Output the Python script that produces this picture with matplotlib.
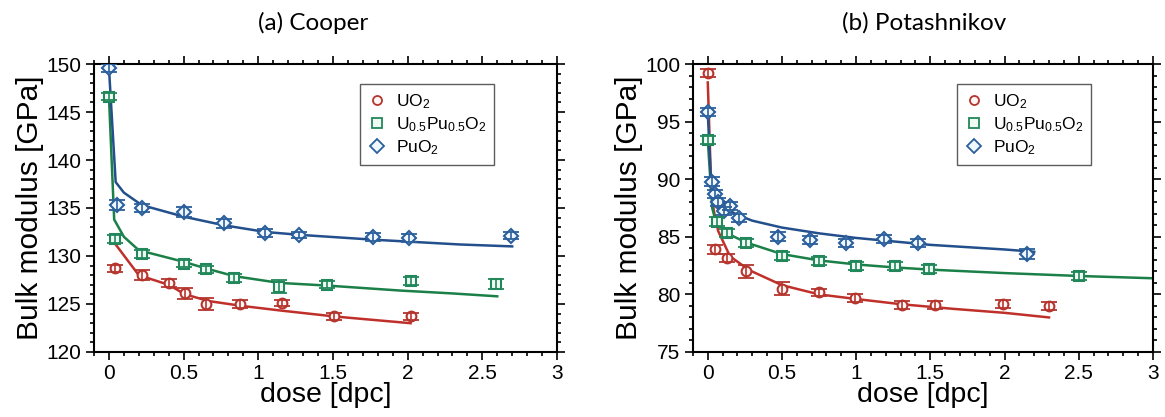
import matplotlib
matplotlib.use("Agg")
import matplotlib.pyplot as plt
from matplotlib.lines import Line2D
from matplotlib.ticker import MultipleLocator

plt.rcParams['font.family'] = ['Liberation Sans', 'DejaVu Sans']
plt.rcParams['mathtext.fontset'] = 'custom'
plt.rcParams['mathtext.rm'] = 'Liberation Sans'
plt.rcParams['mathtext.it'] = 'Liberation Sans:italic'

# ---- (a) Cooper: measured points
coop_uo2_x = [0.04, 0.22, 0.40, 0.51, 0.65, 0.88, 1.16, 1.51, 2.02]
coop_uo2_y = [128.7, 128.0, 127.2, 126.1, 125.0, 125.0, 125.1, 123.7, 123.7]
coop_uo2_e = [0.35, 0.55, 0.45, 0.6, 0.6, 0.45, 0.35, 0.35, 0.4]

coop_mox_x = [0.0, 0.04, 0.22, 0.50, 0.65, 0.84, 1.14, 1.46, 2.02, 2.59]
coop_mox_y = [146.6, 131.8, 130.2, 129.2, 128.6, 127.7, 126.8, 127.0, 127.4, 127.1]
coop_mox_e = [0.35, 0.4, 0.45, 0.35, 0.4, 0.45, 0.7, 0.35, 0.45, 0.5]

coop_puo2_x = [0.0, 0.056, 0.22, 0.50, 0.77, 1.045, 1.27, 1.77, 2.01, 2.69]
coop_puo2_y = [149.6, 135.3, 135.0, 134.6, 133.4, 132.4, 132.2, 132.0, 131.9, 132.1]
coop_puo2_e = [0.45, 0.55, 0.45, 0.5, 0.5, 0.45, 0.35, 0.4, 0.4, 0.35]

# (a) Cooper: fitted curves
coop_uo2_fit_x = [0.04, 0.2, 0.4, 0.51, 0.67, 0.89, 1.16, 1.51, 1.8, 2.02]
coop_uo2_fit_y = [131.3, 128.0, 127.0, 126.0, 125.3, 124.8, 124.3, 123.7, 123.3, 123.0]
coop_mox_fit_x = [0.0, 0.035, 0.1, 0.2, 0.5, 0.65, 0.84, 1.14, 1.48, 1.95, 2.3, 2.6]
coop_mox_fit_y = [146.6, 133.8, 132.0, 130.6, 129.4, 128.7, 127.9, 127.2, 126.9, 126.4, 126.1, 125.8]
coop_puo2_fit_x = [0.0, 0.045, 0.1, 0.22, 0.5, 0.77, 1.05, 1.28, 1.77, 2.0, 2.35, 2.7]
coop_puo2_fit_y = [149.6, 137.7, 136.6, 135.3, 134.1, 133.2, 132.5, 132.2, 131.7, 131.5, 131.2, 131.0]

# ---- (b) Potashnikov: measured points
pot_uo2_x = [0.0, 0.05, 0.13, 0.26, 0.50, 0.75, 0.99, 1.31, 1.53, 1.99, 2.30]
pot_uo2_y = [99.2, 83.9, 83.2, 82.0, 80.5, 80.2, 79.7, 79.1, 79.1, 79.2, 79.0]
pot_uo2_e = [0.35, 0.35, 0.35, 0.55, 0.55, 0.3, 0.35, 0.35, 0.35, 0.35, 0.35]

pot_mox_x = [0.0, 0.06, 0.13, 0.26, 0.50, 0.75, 1.0, 1.26, 1.49, 2.50]
pot_mox_y = [93.4, 86.3, 85.3, 84.5, 83.3, 82.9, 82.5, 82.5, 82.2, 81.6]
pot_mox_e = [0.35, 0.4, 0.35, 0.35, 0.35, 0.35, 0.35, 0.35, 0.35, 0.35]

pot_puo2_x = [0.0, 0.03, 0.05, 0.07, 0.11, 0.15, 0.21, 0.47, 0.69, 0.93, 1.19, 1.42, 2.15]
pot_puo2_y = [95.8, 89.8, 88.7, 88.0, 87.2, 87.7, 86.6, 85.0, 84.7, 84.5, 84.8, 84.5, 83.5]
pot_puo2_e = [0.35, 0.35, 0.35, 0.35, 0.35, 0.35, 0.35, 0.4, 0.35, 0.35, 0.35, 0.35, 0.4]

# (b) Potashnikov: fitted curves
pot_uo2_fit_x = [0.0, 0.02, 0.04, 0.07, 0.15, 0.28, 0.5, 0.75, 1.0, 1.3, 1.65, 2.0, 2.3]
pot_uo2_fit_y = [98.4, 90.5, 87.3, 85.5, 83.3, 82.1, 80.8, 80.0, 79.6, 79.15, 78.75, 78.4, 78.0]
pot_mox_fit_x = [0.0, 0.03, 0.05, 0.13, 0.26, 0.5, 0.75, 1.0, 1.25, 1.5, 2.0, 2.5, 3.0]
pot_mox_fit_y = [93.4, 87.5, 86.5, 85.3, 84.5, 83.5, 82.95, 82.6, 82.35, 82.15, 81.85, 81.6, 81.4]
pot_puo2_fit_x = [0.0, 0.02, 0.05, 0.1, 0.2, 0.3, 0.5, 0.75, 1.0, 1.25, 1.5, 1.75, 2.0, 2.2]
pot_puo2_fit_y = [95.8, 90.2, 88.4, 87.6, 86.9, 86.4, 85.8, 85.3, 84.9, 84.6, 84.3, 84.1, 83.9, 83.7]

labels = [r"UO$_2$", r"U$_{0.5}$Pu$_{0.5}$O$_2$", r"PuO$_2$"]
line_cols = ['#c0302a', '#1b8048', '#234f8c']
edge_cols = ['#b5352e', '#22875a', '#2b5f9c']
face_cols = ['#fff6f5', '#f0faf5', '#eef8fd']
markers = ['o', 's', 'D']
msizes = [7, 7.5, 7.5]


def draw_panel(ax, pts, fits, ylim, title, title_x):
    for i, ((x, y, e), (fx, fy)) in enumerate(zip(pts, fits)):
        ax.plot(fx, fy, color=line_cols[i], lw=1.8, zorder=2)
        ax.plot(x, y, ls='none', marker=markers[i], ms=msizes[i],
                mec=edge_cols[i], mfc=face_cols[i], mew=1.5, zorder=3)
        ax.errorbar(x, y, yerr=e, fmt='none', ecolor=edge_cols[i],
                    elinewidth=1.2, capsize=5.5, capthick=1.3, zorder=4)
    ax.set_xlim(-0.1, 3)
    ax.set_ylim(*ylim)
    ax.xaxis.set_major_locator(MultipleLocator(0.5))
    ax.xaxis.set_minor_locator(MultipleLocator(0.1))
    ax.yaxis.set_major_locator(MultipleLocator(5))
    ax.yaxis.set_minor_locator(MultipleLocator(1))
    ax.tick_params(which='both', direction='out', top=True, right=True,
                   width=1.2, labelsize=15, pad=3)
    ax.tick_params(which='major', length=6)
    ax.tick_params(which='minor', length=3)
    ax.set_xticks([0, 0.5, 1, 1.5, 2, 2.5, 3])
    ax.set_xticklabels(['0', '0.5', '1', '1.5', '2', '2.5', '3'])
    for sp in ax.spines.values():
        sp.set_linewidth(1.5)
    ax.set_xlabel("dose [dpc]", fontsize=20.5, labelpad=-1)
    ax.set_ylabel("Bulk modulus [GPa]", fontsize=21.5, labelpad=2)
    handles = [Line2D([], [], ls='none', marker=markers[i], ms=msizes[i] - 0.5,
                      mec=edge_cols[i], mfc=face_cols[i], mew=1.3)
               for i in range(3)]
    leg = ax.legend(handles, labels, loc='upper left',
                    bbox_to_anchor=(0.575, 0.93), fontsize=12.5,
                    frameon=True, fancybox=False, handlelength=1.0,
                    handletextpad=0.6, borderpad=0.45, labelspacing=0.25,
                    borderaxespad=0)
    leg.get_frame().set_edgecolor('#333333')
    leg.get_frame().set_linewidth(1.0)
    ax.figure.text(title_x, 0.945, title, fontsize=17.5, family='Lato',
                   ha='center', va='center')


fig = plt.figure(figsize=(11.65, 4.17), dpi=100)
ax1 = fig.add_axes([0.0807, 0.1559, 0.3974, 0.6906])
ax2 = fig.add_axes([0.5948, 0.1559, 0.3948, 0.6906])

draw_panel(ax1,
           [(coop_uo2_x, coop_uo2_y, coop_uo2_e),
            (coop_mox_x, coop_mox_y, coop_mox_e),
            (coop_puo2_x, coop_puo2_y, coop_puo2_e)],
           [(coop_uo2_fit_x, coop_uo2_fit_y),
            (coop_mox_fit_x, coop_mox_fit_y),
            (coop_puo2_fit_x, coop_puo2_fit_y)],
           (120, 150), "(a) Cooper", 313 / 1165)

draw_panel(ax2,
           [(pot_uo2_x, pot_uo2_y, pot_uo2_e),
            (pot_mox_x, pot_mox_y, pot_mox_e),
            (pot_puo2_x, pot_puo2_y, pot_puo2_e)],
           [(pot_uo2_fit_x, pot_uo2_fit_y),
            (pot_mox_fit_x, pot_mox_fit_y),
            (pot_puo2_fit_x, pot_puo2_fit_y)],
           (75, 100), "(b) Potashnikov", 924 / 1165)

fig.savefig("out.png", dpi=100)
